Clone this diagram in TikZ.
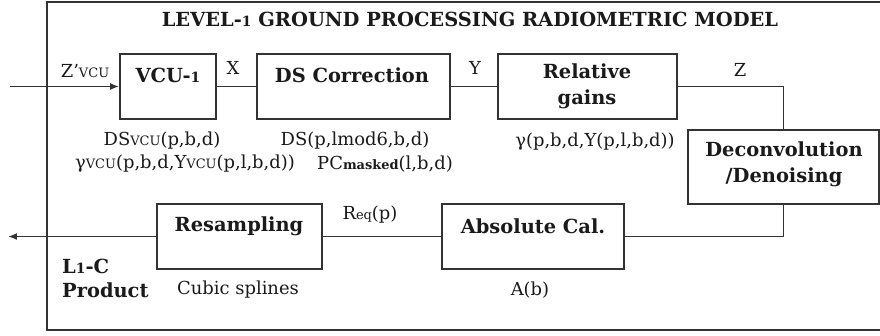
\documentclass[tikz,border=0pt]{standalone}
\usepackage{fontspec}
\setmainfont{DejaVu Serif}
\usetikzlibrary{arrows.meta}
\definecolor{ln}{HTML}{333333}
\definecolor{tx}{HTML}{1A1A1A}
\newcommand{\sub}[1]{{\fontsize{13}{12}\selectfont #1}}
\newcommand{\osone}{{\fontsize{14}{14}\selectfont 1}}
\tikzset{
  blk/.style={draw=ln, line width=1.7pt, minimum width=#1, inner sep=0pt, minimum height=65pt},
  btxt/.style={font=\fontsize{19.5}{26}\selectfont\bfseries, text=tx, inner sep=0pt, align=center},
  ntxt/.style={font=\fontsize{18}{22}\selectfont, text=tx, inner sep=0pt},
  ttl/.style={font=\fontsize{19.5}{22}\selectfont\bfseries, text=tx, inner sep=0pt},
  wire/.style={draw=ln, line width=1.7pt},
  arr/.style={wire, -{Latex[length=9pt,width=7pt]}}
}
\begin{document}
\begin{tikzpicture}[x=1bp,y=-1bp]
\useasboundingbox (0,0) rectangle (880,335);
\fill[white] (0,0) rectangle (880,335);
% frame
\coordinate (f1) at (882,2);
\coordinate (f2) at (47,2);
\coordinate (f3) at (47,330);
\coordinate (f4) at (882,330);
\draw[wire] (f1) -- (f2) -- (f3) -- (f4);
\node[ttl] (title) at (470,19) {LEVEL-\osone{} GROUND PROCESSING RADIOMETRIC MODEL};
% boxes
\node[blk=96bp] (vcu) at (168,86.5) {};
\node[blk=193bp] (ds) at (353.5,86.5) {};
\node[blk=179bp] (rel) at (587.5,86.5) {};
\node[blk=191bp, minimum height=74bp] (dec) at (783.5,167) {};
\node[blk=182bp] (abs) at (533,236.5) {};
\node[blk=165bp] (res) at (239.5,236.5) {};
% box texts
\node[btxt] (tvcu) at (168,75) {VCU-\osone};
\node[btxt] (tds) at (352,75) {DS Correction};
\node[btxt] (trel) at (587,86.5) {Relative\\gains};
\node[btxt] (tdec) at (784,164) {Deconvolution\\/Denoising};
\node[btxt] (tabs) at (533,226) {Absolute Cal.};
\node[btxt] (tres) at (239,226) {Resampling};
% wire labels
\node[ntxt] (lz1) at (85,71) {Z'\sub{VCU}};
\node[ntxt] (lx) at (233,68) {X};
\node[ntxt] (ly) at (475,68) {Y};
\node[ntxt] (lz) at (740,70) {Z};
\node[ntxt] (lreq) at (370,215) {R\sub{eq}(p)};
% parameter texts
\node[ntxt] (p1) at (162,141) {DS\sub{VCU}(p,b,d)};
\node[ntxt] (p2) at (185,164) {γ\sub{VCU}(p,b,d,Y\sub{VCU}(p,l,b,d))};
\node[ntxt] (p3) at (355,141) {DS(p,lmod6,b,d)};
\node[ntxt] (p4) at (385,164) {PC\sub{\bfseries masked}(l,b,d)};
\node[ntxt] (p5) at (595,142) {γ(p,b,d,Y(p,l,b,d))};
\node[ntxt] (p6) at (238,290) {Cubic splines};
\node[ntxt] (p7) at (530,290) {A(b)};
\node[btxt, anchor=west] (l1c) at (62,266) {L\osone-C};
\node[btxt, anchor=west] (prod) at (62,290) {Product};
% connectors
\coordinate (in) at (10,86.5);
\coordinate (out) at (8,236.5);
\draw[arr] (in) -- (vcu.west);
\draw[wire] (vcu.east) -- (ds.west);
\draw[wire] (ds.east) -- (rel.west);
\draw[wire] (rel.east) -| (dec.north);
\draw[wire] (dec.south) |- (abs.east);
\draw[wire] (abs.west) -- (res.east);
\draw[arr] (res.west) -- (out);
\end{tikzpicture}
\end{document}
